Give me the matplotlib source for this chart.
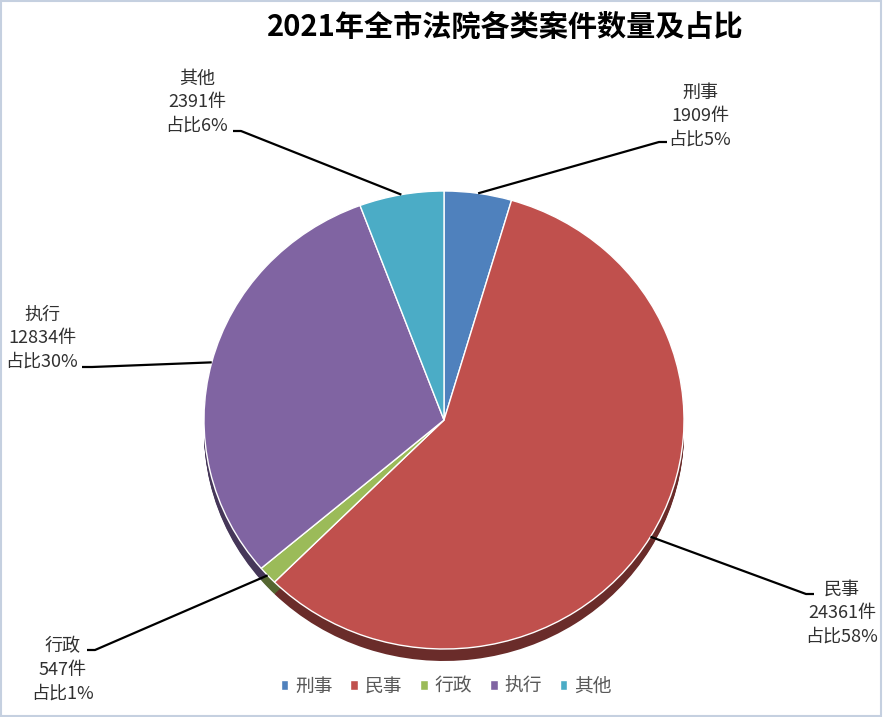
import numpy as np
import matplotlib
matplotlib.use('Agg')
import matplotlib.pyplot as plt
from matplotlib.lines import Line2D
from matplotlib.patches import Rectangle
from matplotlib.transforms import IdentityTransform
from matplotlib.colors import to_rgb

# data
categories = ['刑事', '民事', '行政', '执行', '其他']
counts = [1909, 24361, 547, 12834, 2391]
pct_labels = [5, 58, 1, 30, 6]
colors = ['#4F81BD', '#C0504D', '#9BBB59', '#8064A2', '#4BACC6']
title = '2021年全市法院各类案件数量及占比'

W, H = 884, 717
plt.rcParams['font.family'] = ['Noto Sans CJK SC', 'DejaVu Sans']

fig = plt.figure(figsize=(W / 100, H / 100), dpi=100)
fig.patch.set_facecolor('white')

# pie axes box in pixels (left, top, right, bottom of the top surface)
pl, pt, pr, pb = 204, 191, 684, 649
ax = fig.add_axes([pl / W, 1 - pb / H, (pr - pl) / W, (pb - pt) / H])

# 3D-ish depth: stack darker pies under the top surface
depth = 12 / ((pb - pt) / 2)
dark = [tuple(c * 0.55 for c in to_rgb(col)) for col in colors]
for d in np.linspace(0, depth, 14)[1:]:
    ax.pie(counts, colors=dark, startangle=90, counterclock=False,
           center=(0, -d), wedgeprops=dict(linewidth=0))

wedges, _ = ax.pie(counts, colors=colors, startangle=90, counterclock=False,
                   wedgeprops=dict(edgecolor='white', linewidth=1.0))
ax.set_aspect('auto')
ax.set_xlim(-1, 1)
ax.set_ylim(-1, 1)
ax.axis('off')

# labels (pixel positions measured from the top-left corner)
label_pos = [(700, 116), (842, 613), (63, 670), (42, 338), (197, 102)]
leader_start = [(667, 142), (814, 594), (87, 650), (82, 367), (233, 131)]
leader_kink = [(659, 142), (806, 594), (95, 650), (92, 367), (241, 131)]

for w, cat, n, p, (lx, ly), (sx, sy), (kx, ky) in zip(
        wedges, categories, counts, pct_labels, label_pos, leader_start, leader_kink):
    fig.text(lx / W, 1 - ly / H, f'{cat}\n{n}件\n占比{p}%', ha='center', va='center',
             fontsize=13, color='#303030', linespacing=1.38)
    mid = np.deg2rad((w.theta1 + w.theta2) / 2)
    ex, ey = ax.transData.transform((np.cos(mid), np.sin(mid)))
    fig.add_artist(Line2D([sx, kx, ex], [H - sy, H - ky, ey], color='black', lw=1.6,
                          transform=IdentityTransform(), solid_capstyle='butt'))

fig.text(505 / W, 1 - 27 / H, title, ha='center', va='center', fontsize=21,
         fontweight='bold', color='black')

fig.legend(wedges, categories, loc='center', bbox_to_anchor=(446 / W, 1 - 686 / H),
           ncol=5, frameon=False, fontsize=13.5, handlelength=0.42, handleheight=0.42,
           handletextpad=0.35, columnspacing=0.95, labelcolor='#595959')

fig.add_artist(Rectangle((0.001, 0.001), 0.996, 0.997, transform=fig.transFigure,
                         fill=False, edgecolor='#C5D0E0', lw=1.5))

fig.savefig('out.png', dpi=100)
